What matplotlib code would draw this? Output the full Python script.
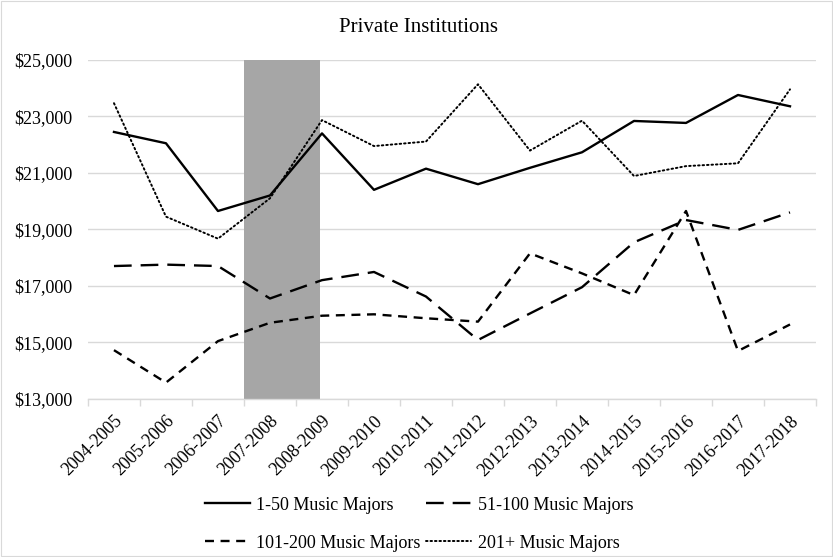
import matplotlib
matplotlib.use("Agg")
import matplotlib.pyplot as plt
from matplotlib.patches import Rectangle
from matplotlib.ticker import FuncFormatter

plt.rcParams.update({
    "font.family": "Liberation Serif",
    "font.size": 13,
})

years = ["2004-2005", "2005-2006", "2006-2007", "2007-2008", "2008-2009",
         "2009-2010", "2010-2011", "2011-2012", "2012-2013", "2013-2014",
         "2014-2015", "2015-2016", "2016-2017", "2017-2018"]

majors_1_50 = [22450, 22050, 19650, 20200, 22400, 20400, 21150,
               20600, 21180, 21730, 22840, 22770, 23760, 23360]
majors_51_100 = [17700, 17750, 17700, 16550, 17200, 17490, 16620,
                 15080, 16020, 16950, 18540, 19330, 18980, 19600]
majors_101_200 = [14720, 13570, 15040, 15690, 15940, 15990, 15850,
                  15730, 18150, 17440, 16670, 19650, 14690, 15630]
majors_201_plus = [23470, 19450, 18670, 20100, 22870, 21950, 22110,
                   24140, 21790, 22850, 20890, 21240, 21340, 23960]

# recession years band (category positions)
band_start, band_end = 2.5, 3.96

fig = plt.figure(figsize=(8.33, 5.57), dpi=100)
fig.add_artist(Rectangle((0.001, 0.001), 0.998, 0.998, transform=fig.transFigure,
                         fill=False, edgecolor="#d9d9d9", lw=0.8))
ax = fig.add_axes([0.1056, 0.2842, 0.874, 0.6081])

x = list(range(len(years)))
ax.axvspan(band_start, band_end, color="#a6a6a6", zorder=1, lw=0)

ax.plot(x, majors_1_50, color="black", lw=1.7, label="1-50 Music Majors", zorder=3)
ax.plot(x, majors_51_100, color="black", lw=1.7, ls=(0, (7.5, 3.8)),
        label="51-100 Music Majors", zorder=3)
ax.plot(x, majors_101_200, color="black", lw=1.7, ls=(0, (3.8, 2.8)),
        label="101-200 Music Majors", zorder=3)
ax.plot(x, majors_201_plus, color="black", lw=1.4, ls=(0, (0.8, 1.5)),
        dash_capstyle="round", label="201+ Music Majors", zorder=3)

ax.set_xlim(-0.5, len(years) - 0.5)
ax.set_ylim(13000, 25000)
ax.set_yticks(range(13000, 25001, 2000))
ax.yaxis.set_major_formatter(FuncFormatter(lambda v, p: f"${v:,.0f}"))
ax.grid(axis="y", color="#d9d9d9", lw=1, zorder=0)
ax.set_axisbelow(True)

ax.set_xticks(x)
ax.set_xticklabels(years, rotation=45, ha="right", rotation_mode="anchor")
ax.set_xticks([i - 0.5 for i in range(len(years) + 1)], minor=True)
ax.tick_params(axis="x", which="major", length=0, pad=10)
ax.tick_params(axis="x", which="minor", length=5, color="#d9d9d9", width=1)
ax.tick_params(axis="y", length=0, pad=11)

for s in ["top", "right", "left"]:
    ax.spines[s].set_visible(False)
ax.spines["bottom"].set_color("#d9d9d9")
ax.spines["bottom"].set_linewidth(1)

fig.text(0.503, 0.951, "Private Institutions", fontsize=15,
         ha="center", va="center")

h, l = ax.get_legend_handles_labels()
order = [0, 2, 1, 3]
fig.legend([h[i] for i in order], [l[i] for i in order], ncol=2,
           loc="center", bbox_to_anchor=(0.503, 0.059), frameon=False,
           handlelength=2.5, columnspacing=0.3, handletextpad=0.35,
           labelspacing=1.15, fontsize=13)

fig.savefig("out.png", dpi=100)
